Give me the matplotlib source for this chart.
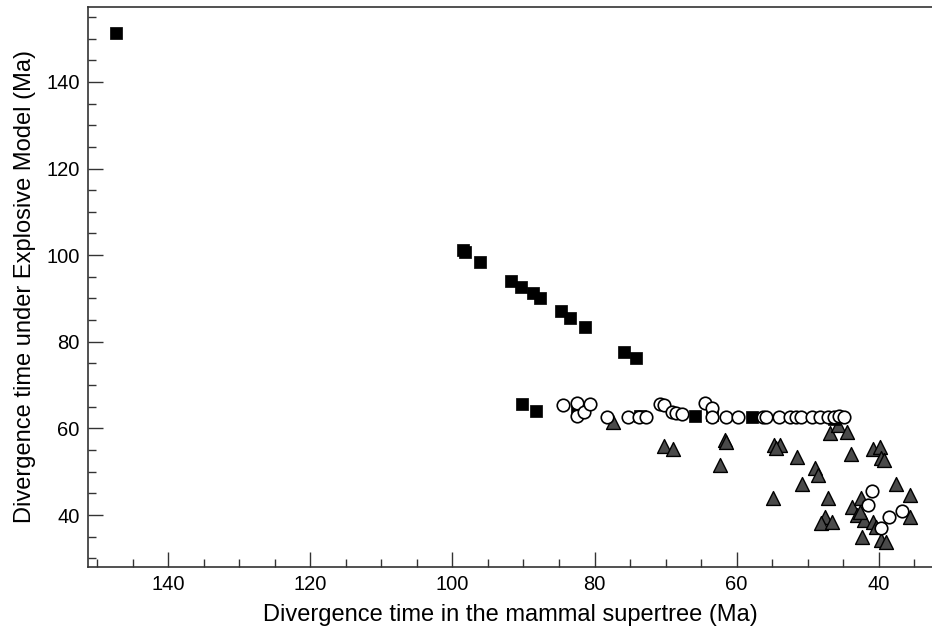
import matplotlib.pyplot as plt
from matplotlib.ticker import MultipleLocator

plt.rcParams['font.family'] = ['Liberation Sans', 'DejaVu Sans']

# black squares
sq_x = [147.3, 98.5, 98.2, 96.1, 91.7, 90.3, 88.6, 87.7, 84.7, 83.4, 81.4, 75.8, 74.2,
        90.2, 88.2, 82.4, 73.6, 65.9, 63.4, 57.8, 46.3]
sq_y = [151.3, 101.2, 100.8, 98.5, 94.1, 92.7, 91.3, 90.0, 87.0, 85.6, 83.5, 77.7, 76.3,
        65.6, 64.0, 65.0, 62.9, 62.9, 63.1, 62.7, 62.2]

# open circles
ci_x = [84.5, 82.4, 82.4, 81.5, 80.6, 78.2, 75.3, 73.8, 72.7, 70.8, 70.2, 69.1, 68.5, 67.7,
        64.4, 63.5, 63.5, 61.5, 59.8, 56.3, 55.8, 54.0, 52.5, 51.7, 50.9, 49.4, 48.2, 47.2,
        46.3, 45.6, 44.9,
        41.0, 41.5, 39.7, 38.5, 36.7]
ci_y = [65.4, 65.9, 62.9, 63.9, 65.6, 62.7, 62.6, 62.6, 62.6, 65.6, 65.4, 63.9, 63.6, 63.3,
        65.8, 64.6, 62.6, 62.6, 62.6, 62.6, 62.6, 62.6, 62.6, 62.6, 62.6, 62.6, 62.6, 62.6,
        62.6, 62.8, 62.6,
        45.6, 42.3, 36.9, 39.6, 41.0]

# grey triangles
tr_x = [77.4, 70.2, 68.9, 61.6, 61.5, 62.3, 54.8, 53.9, 54.5, 54.9, 51.5, 50.8, 48.9, 48.6,
        47.2, 47.5, 48.1, 46.6, 46.8, 45.7, 44.4, 43.9, 40.8, 39.8, 39.7, 39.3, 37.5, 35.6,
        35.6, 43.7, 42.5, 43.0, 42.1, 40.8, 40.4, 42.3, 39.7, 39.0, 42.7]
tr_y = [61.5, 55.9, 55.2, 57.3, 56.9, 51.5, 56.2, 56.2, 55.4, 43.9, 53.5, 47.2, 50.8, 49.2,
        43.9, 39.6, 38.2, 38.4, 58.9, 60.8, 59.2, 54.2, 55.2, 55.6, 53.1, 52.7, 47.2, 44.6,
        39.6, 41.9, 43.9, 40.0, 38.8, 38.4, 37.3, 35.0, 34.2, 33.8, 40.8]

fig = plt.figure(figsize=(9.32, 6.31), dpi=100)
ax = fig.add_axes([0.0944, 0.1014, 0.9056, 0.8876])

ax.scatter(tr_x, tr_y, marker='^', s=10.0**2, c='#4a4a4a', edgecolors='black', linewidths=1.0, zorder=3)
ax.scatter(sq_x, sq_y, marker='s', s=8.6**2, c='black', edgecolors='black', linewidths=0.5, zorder=4)
ax.scatter(ci_x, ci_y, marker='o', s=9.0**2, c='white', edgecolors='black', linewidths=1.2, zorder=5)

ax.set_xlim(151.3, 32.5)
ax.set_ylim(28, 157.3)

ax.xaxis.set_major_locator(MultipleLocator(20))
ax.xaxis.set_minor_locator(MultipleLocator(5))
ax.yaxis.set_major_locator(MultipleLocator(20))
ax.yaxis.set_minor_locator(MultipleLocator(5))

ax.tick_params(which='both', direction='in', colors='#333333', labelcolor='black', labelsize=14.5)
ax.tick_params(which='major', length=11, width=1.0, pad=6)
ax.tick_params(which='minor', length=6, width=1.0)

ax.spines['right'].set_visible(False)
for side in ['left', 'bottom', 'top']:
    ax.spines[side].set_color('#333333')
    ax.spines[side].set_linewidth(1.2)

ax.set_xlabel('Divergence time in the mammal supertree (Ma)', fontsize=17, labelpad=7)
ax.set_ylabel('Divergence time under Explosive Model (Ma)', fontsize=17, labelpad=7)

fig.savefig('out.png', dpi=100)
